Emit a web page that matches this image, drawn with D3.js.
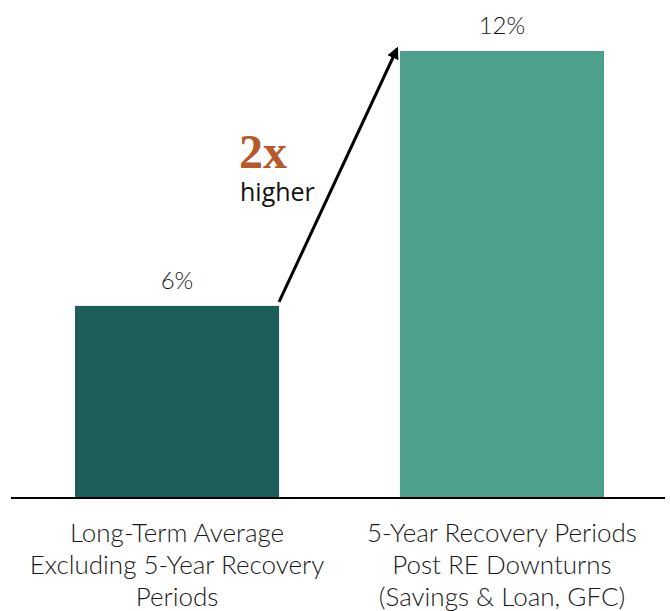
<!DOCTYPE html>
<html>
<head>
<meta charset="utf-8">
<script src="https://cdn.jsdelivr.net/npm/d3@7"></script>
<style>
  body { margin: 0; background: #fff; }
  .lbl { font-family: Lato, "Open Sans", sans-serif; font-weight: 300; fill: #1a1a1a; }
</style>
</head>
<body>
<div id="chart"></div>
<script>
// categories (multi-line labels)
var categories = [
  ["Long-Term Average", "Excluding 5-Year Recovery", "Periods"],
  ["5-Year Recovery Periods", "Post RE Downturns", "(Savings & Loan, GFC)"]
];
// bar heights as drawn, and the printed labels
var values = [5.2, 12.1];
var valueLabels = ["6%", "12%"];
var barColors = ["#1d5e5a", "#4ca08c"];

var width = 670, height = 611;
var svg = d3.select("#chart").append("svg")
  .attr("width", width)
  .attr("height", height);

var baseY = 498;

var x = d3.scaleBand()
  .domain([0, 1])
  .range([75, 604])
  .paddingInner(0.372)
  .paddingOuter(0);

var y = d3.scaleLinear()
  .domain([0, 12.1])
  .range([baseY, 51]);

// bars
svg.selectAll(".bar")
  .data(values)
  .enter().append("rect")
  .attr("class", "bar")
  .attr("x", function(d, i) { return x(i); })
  .attr("width", x.bandwidth())
  .attr("y", function(d) { return y(d); })
  .attr("height", function(d) { return baseY - y(d); })
  .attr("fill", function(d, i) { return barColors[i]; });

// value labels
svg.selectAll(".val")
  .data(values)
  .enter().append("text")
  .attr("class", "lbl")
  .attr("x", function(d, i) { return x(i) + x.bandwidth() / 2; })
  .attr("y", function(d) { return y(d) - 17; })
  .attr("text-anchor", "middle")
  .style("font-size", "24px")
  .text(function(d, i) { return valueLabels[i]; });

// baseline
svg.append("line")
  .attr("x1", 11).attr("x2", 665)
  .attr("y1", baseY).attr("y2", baseY)
  .attr("stroke", "#000")
  .attr("stroke-width", 2);

// category labels
categories.forEach(function(lines, i) {
  var t = svg.append("text")
    .attr("class", "lbl")
    .attr("text-anchor", "middle")
    .style("font-size", "26px");
  lines.forEach(function(line, j) {
    t.append("tspan")
      .attr("x", x(i) + x.bandwidth() / 2)
      .attr("y", baseY + 44 + j * 32)
      .text(line);
  });
});

// arrow
svg.append("defs").append("marker")
  .attr("id", "arrowhead")
  .attr("viewBox", "0 0 10 10")
  .attr("refX", 8).attr("refY", 5)
  .attr("markerWidth", 4).attr("markerHeight", 4)
  .attr("orient", "auto")
  .append("path")
  .attr("d", "M0,0 L10,5 L0,10 z")
  .attr("fill", "#000");

svg.append("line")
  .attr("x1", x(0) + x.bandwidth())
  .attr("y1", y(values[0]) - 4)
  .attr("x2", x(1) - 3)
  .attr("y2", y(values[1]) - 2)
  .attr("stroke", "#000")
  .attr("stroke-width", 3)
  .attr("marker-end", "url(#arrowhead)");

// annotation
svg.append("text")
  .attr("x", 239).attr("y", 168)
  .style("font-family", "'Liberation Serif', 'DejaVu Serif', serif")
  .style("font-weight", "bold")
  .style("font-size", "48px")
  .attr("fill", "#b5582a")
  .text("2x");

svg.append("text")
  .attr("x", 240).attr("y", 201)
  .style("font-family", "'Open Sans', sans-serif")
  .style("font-size", "25px")
  .attr("fill", "#111")
  .text("higher");
</script>
</body>
</html>
